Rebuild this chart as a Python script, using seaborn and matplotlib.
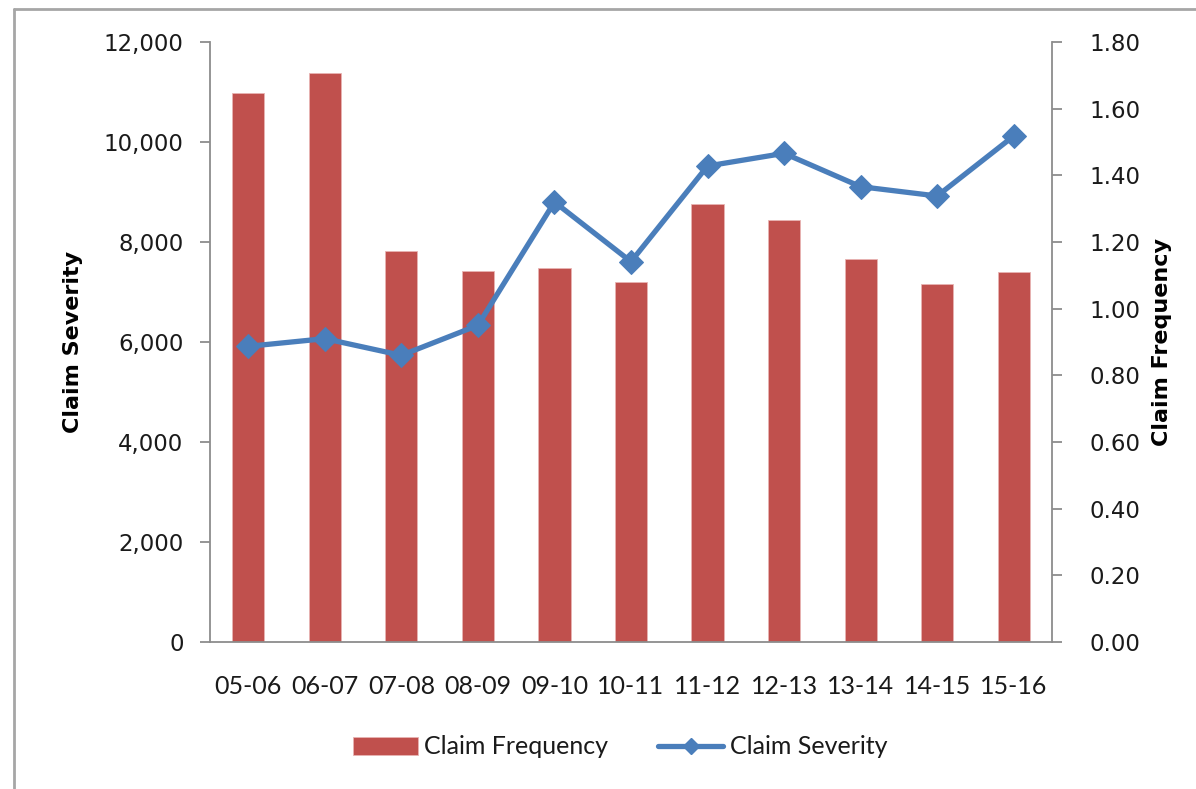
import matplotlib
matplotlib.use("Agg")
import matplotlib.pyplot as plt
import seaborn as sns
import pandas as pd
from matplotlib.lines import Line2D
from matplotlib.patches import Patch
from matplotlib.ticker import FuncFormatter, FixedLocator

# Financial years and series values
years = ["05-06", "06-07", "07-08", "08-09", "09-10", "10-11",
         "11-12", "12-13", "13-14", "14-15", "15-16"]
claim_frequency = [10980, 11380, 7830, 7430, 7475, 7200, 8755, 8445, 7665, 7160, 7395]
claim_severity = [0.887, 0.910, 0.860, 0.950, 1.320, 1.141, 1.428, 1.466, 1.366, 1.338, 1.518]

left_ticks = [0, 2000, 4000, 6000, 8000, 10000, 12000]
right_ticks = [0.0, 0.2, 0.4, 0.6, 0.8, 1.0, 1.2, 1.4, 1.6, 1.8]

df = pd.DataFrame({"year": years, "freq": claim_frequency, "sev": claim_severity})

BAR_RED = "#C0504D"
LINE_BLUE = "#4A7EBB"
AXIS_GREY = "#8C8C8C"
TEXT = "#1A1A1A"

sns.set_style("white")
plt.rcParams["font.family"] = ["DejaVu Sans"]

fig = plt.figure(figsize=(11.96, 7.89), dpi=100)
ax = fig.add_axes([210 / 1196, 1 - 642 / 789, (1052 - 210) / 1196, (642 - 42) / 789])

sns.barplot(data=df, x="year", y="freq", color=BAR_RED, width=0.42,
            saturation=1, ax=ax, zorder=2)
for p in ax.patches:
    p.set_edgecolor("#E8B4B3")
    p.set_linewidth(0.6)

ax2 = ax.twinx()
sns.lineplot(data=df, x="year", y="sev", color=LINE_BLUE, linewidth=3.8,
             marker="D", markersize=12, markeredgecolor=LINE_BLUE,
             markerfacecolor=LINE_BLUE, sort=False, ax=ax2, zorder=3)

ax.set_xlim(-0.5, len(years) - 0.5)
ax.set_ylim(0, 12000)
ax2.set_ylim(0, 1.8)

ax.set_yticks(left_ticks)
ax.yaxis.set_major_formatter(FuncFormatter(lambda v, _: f"{int(v):,}"))
ax2.set_yticks(right_ticks)
ax2.yaxis.set_major_formatter(FuncFormatter(lambda v, _: f"{v:.2f}"))

# category labels at centres, tick marks at the boundaries
ax.set_xticks(range(len(years)))
ax.set_xticklabels(years, family="Lato", fontsize=18, color=TEXT)
ax.xaxis.set_minor_locator(FixedLocator([i - 0.5 for i in range(len(years) + 1)]))
ax.tick_params(axis="x", which="major", length=0, pad=24)
ax.tick_params(axis="x", which="minor", length=8, width=1.3, color=AXIS_GREY, direction="out")

ax.tick_params(axis="y", length=7, width=1.3, color=AXIS_GREY, direction="out",
               labelsize=16.5, labelcolor=TEXT, pad=12)
ax2.tick_params(axis="y", length=7, width=1.3, color=AXIS_GREY, direction="out",
                labelsize=16.5, labelcolor=TEXT, pad=20)

ax.set_xlabel("")
ax.set_ylabel("Claim Severity", fontsize=16, fontweight="bold", color="black")
ax2.set_xlabel("")
ax2.set_ylabel("Claim Frequency", fontsize=16, fontweight="bold", color="black",
               rotation=90)
ax.yaxis.set_label_coords(-0.151, 0.5)
ax2.yaxis.set_label_coords(1.119, 0.5)

for a in (ax, ax2):
    a.spines["top"].set_visible(False)
    for s in ("left", "right", "bottom"):
        a.spines[s].set_color(AXIS_GREY)
        a.spines[s].set_linewidth(1.3)
    a.grid(False)
    a.set_facecolor("none")
ax.spines["right"].set_visible(False)
ax2.spines["left"].set_visible(False)
ax2.spines["bottom"].set_visible(False)

handles = [
    Patch(facecolor=BAR_RED, edgecolor="#E8B4B3", linewidth=0.6),
    Line2D([0], [0], color=LINE_BLUE, linewidth=3.8, marker="D", markersize=8),
]
fig.legend(handles, ["Claim Frequency", "Claim Severity"], loc="center",
           bbox_to_anchor=(620 / 1196, 1 - 747 / 789), ncol=2, frameon=False,
           prop={"family": "Lato", "size": 18}, handlelength=2.6,
           handleheight=0.7, handletextpad=0.25, columnspacing=2.0, labelcolor=TEXT)

# outer chart frame (left and top edges)
fig.add_artist(Line2D([13.5 / 1196, 13.5 / 1196], [0, 1 - 8.5 / 789],
                      transform=fig.transFigure, color="#A6A6A6", linewidth=2))
fig.add_artist(Line2D([13.5 / 1196, 1], [1 - 8.5 / 789, 1 - 8.5 / 789],
                      transform=fig.transFigure, color="#A6A6A6", linewidth=2))

fig.savefig("out.png", dpi=100, facecolor="white")
